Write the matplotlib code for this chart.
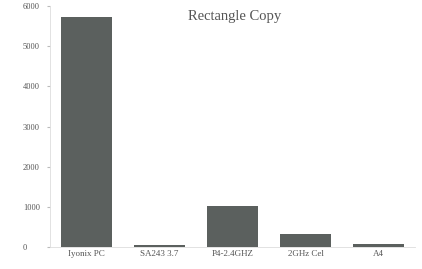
import matplotlib
matplotlib.use("Agg")
import matplotlib.pyplot as plt

categories = ["Iyonix PC", "SA243 3.7", "P4-2.4GHZ", "2GHz Cel", "A4"]
values = [5720, 50, 1020, 320, 75]
yticks = [0, 1000, 2000, 3000, 4000, 5000, 6000]

plt.rcParams['font.family'] = ['Liberation Serif', 'DejaVu Serif']
fig = plt.figure(figsize=(4.22, 2.69), dpi=100)
ax = fig.add_axes([50/422, 1-247/269, 365/422, 241/269])
ax.bar(range(len(categories)), values, width=0.7, color="#5b605e")
ax.set_xlim(-0.5, 4.5)
ax.set_ylim(0, 6000)
ax.set_yticks(yticks)
ax.set_yticklabels([str(v) for v in yticks], fontsize=6, color="#555555", ha='left')
ax.set_xticks(range(len(categories)))
ax.set_xticklabels(categories, fontsize=6.5, color="#555555")
ax.tick_params(axis='x', length=0, pad=2)
ax.tick_params(axis='y', length=2, color="#bbbbbb", pad=17.4)
for s in ['top', 'right']:
    ax.spines[s].set_visible(False)
for s in ['left', 'bottom']:
    ax.spines[s].set_color("#dddddd")
    ax.spines[s].set_linewidth(0.6)
ax.text(0.507, 0.955, "Rectangle Copy", transform=ax.transAxes, ha='center', va='center',
        fontsize=10.5, color="#555555")
fig.savefig("out.png", dpi=100)
